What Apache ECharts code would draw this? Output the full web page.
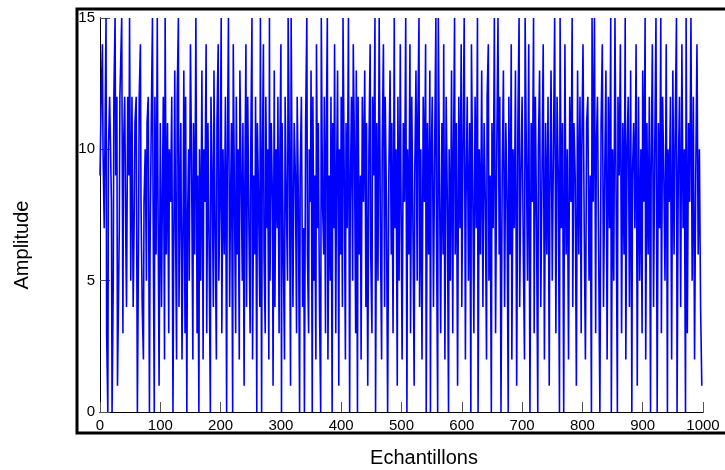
<!DOCTYPE html>
<html>
<head>
<meta charset="utf-8">
<script src="https://cdn.jsdelivr.net/npm/echarts@6.0.0/dist/echarts.min.js"></script>
<style>
html,body{margin:0;padding:0;background:#fff;}
#chart{width:725px;height:470px;}
</style>
</head>
<body>
<div id="chart"></div>
<script>
// Signal values (integer amplitudes, samples 0..999), read/
const amplitude = [
9,9,12,12,14,10,10,7,7,7,15,3,3,0,10,10,12,12,12,8,0,0,5,12,12,15,9,9,12,1,1,1,7,12,12,14,15,15,3,10,10,12,12,6,4,4,12,12,9,15,
15,5,5,12,12,4,4,8,11,11,12,12,0,0,7,12,12,14,8,8,4,4,2,8,8,10,10,5,11,11,12,12,0,6,6,11,11,15,8,8,0,12,12,6,6,15,9,9,1,1,
11,11,4,7,7,12,12,2,15,15,6,6,11,11,3,10,10,8,8,12,12,0,5,5,13,8,8,2,12,12,15,4,4,9,11,11,2,2,8,13,13,3,12,12,0,7,7,10,5,5,
14,14,9,9,2,11,11,6,6,15,15,3,9,9,0,10,10,5,5,13,13,2,10,10,8,8,14,3,3,11,11,6,6,0,12,12,9,9,4,13,13,7,7,2,11,11,14,5,5,8,
8,15,3,3,10,10,6,6,12,12,0,9,9,15,15,4,7,7,11,11,0,14,14,8,8,3,12,12,6,10,10,2,13,13,9,9,5,11,11,1,8,8,14,4,4,12,12,7,7,3,
10,10,15,2,2,9,9,6,12,12,0,11,11,8,8,4,15,15,0,9,9,14,6,6,3,12,12,7,10,10,2,15,5,5,11,11,8,1,1,13,4,4,10,10,7,12,12,3,9,9,
14,0,11,11,6,6,2,12,12,8,8,5,15,15,10,10,1,15,15,7,4,4,11,11,9,9,3,12,12,8,8,0,9,9,12,12,4,4,7,0,0,11,11,15,6,6,3,10,10,8,
13,13,0,12,12,5,9,9,2,14,14,7,11,11,4,4,0,15,15,8,8,6,12,12,3,10,10,15,2,2,9,9,5,12,12,0,11,11,7,14,14,3,8,8,13,13,1,10,10,6,
12,12,4,15,15,9,9,2,11,11,7,7,15,15,0,8,8,12,12,5,14,14,10,10,3,13,13,0,12,12,6,6,9,2,2,12,12,8,8,13,13,4,11,11,1,1,10,10,14,6,
6,3,12,12,9,9,15,0,0,11,11,5,5,15,15,7,7,2,10,10,14,14,4,12,12,8,8,0,0,9,9,13,13,6,11,11,3,3,15,7,7,10,10,1,12,12,5,5,14,9,
9,2,2,11,11,8,8,15,15,0,10,10,6,6,14,3,3,12,12,7,7,1,9,9,13,13,5,11,11,15,4,4,10,10,2,2,12,12,8,8,14,0,0,11,11,6,6,13,0,9,
9,12,12,4,4,10,10,15,7,7,0,15,15,9,9,3,3,11,11,6,14,14,2,2,12,12,8,8,0,10,10,5,5,13,13,3,9,9,15,6,6,11,11,1,1,12,12,7,7,14,
4,4,10,10,15,15,2,8,8,12,12,5,5,11,11,0,14,14,9,9,3,3,12,12,7,7,15,0,0,10,10,6,6,13,13,4,4,11,11,8,8,2,12,12,14,5,5,9,9,0,
11,11,7,7,15,15,3,3,10,10,15,15,6,12,12,0,0,9,9,13,13,4,4,11,11,8,8,0,12,12,6,6,14,2,2,10,10,7,7,13,13,1,1,11,11,15,4,4,9,9,
12,12,6,6,2,15,15,10,10,5,5,14,14,0,0,11,11,8,8,15,3,3,12,12,7,7,0,10,10,13,13,4,4,9,9,14,14,2,2,11,11,6,6,12,12,1,8,8,13,13,
5,5,10,10,15,15,3,3,12,12,9,9,0,15,15,7,7,11,11,0,0,14,14,6,6,10,10,2,2,12,12,8,8,15,4,4,11,11,9,9,1,1,13,13,6,6,12,12,3,10,
10,14,14,7,7,2,2,11,11,12,12,5,5,9,9,0,15,15,8,8,15,15,3,10,10,12,12,6,6,0,0,11,11,14,14,4,4,9,9,13,13,2,2,12,12,7,7,15,0,0,
10,10,5,5,15,15,8,8,0,12,12,9,9,14,14,3,3,11,11,6,6,15,2,2,10,10,12,12,4,4,13,13,0,9,9,11,11,7,7,14,14,1,1,12,12,5,5,10,10,3,
13,13,8,8,15,2,2,11,11,6,6,12,12,0,9,9,14,14,4,4,10,10,15,15,0,0,11,11,7,7,15,3,3,12,12,9,9,5,5,14,14,0,10,10,8,8,12,12,2,2,
13,13,6,6,11,11,15,0,0,9,9,12,12,4,4,14,14,7,7,10,10,0,15,15,3,3,11,11,8,8,15,15,5,5,12,12,2,2,9,9,14,14,6,6,10,10,4,4,1,1
];
const xTicks = [0,100,200,300,400,500,600,700,800,900,1000];
const yTicks = [0,5,10,15];
const xTitle = 'Echantillons';
const yTitle = 'Amplitude';

const seriesData = amplitude.map((v, i) => [i, v]);

const chart = echarts.init(document.getElementById('chart'), null, {renderer: 'canvas'});
const tickFont = () => ({fontFamily: 'Liberation Sans, Arial, sans-serif', fontSize: 15, color: '#000'});
const axLine = () => ({show: true, lineStyle: {color: '#000', width: 1}});
const xBase = () => ({type: 'value', min: xTicks[0], max: xTicks[xTicks.length-1], interval: xTicks[1]-xTicks[0], splitLine: {show: false}});
const yBase = () => ({type: 'value', min: yTicks[0], max: yTicks[yTicks.length-1], interval: yTicks[1]-yTicks[0], splitLine: {show: false}});
// tick-only axes shifted 5px into the plot, ticks pointing out to the frame -> ticks drawn inside the box
const tickAxis = (pos) => ({position: pos, offset: -5, axisLine: {show: false},
  axisTick: {show: true, inside: false, length: 5, lineStyle: {color: '#555', width: 1}}, axisLabel: {show: false}});

chart.setOption({
  animation: false,
  backgroundColor: '#fff',
  grid: {left: 100, right: 22, top: 18, bottom: 58, show: false},
  xAxis: [
    Object.assign(xBase(), {position: 'bottom', axisLine: axLine(), axisTick: {show: false},
     axisLabel: Object.assign({margin: 6, showMinLabel: true, showMaxLabel: true, formatter: v => String(v)}, tickFont())}),
    Object.assign(xBase(), {position: 'top', axisLine: axLine(), axisTick: {show: false}, axisLabel: {show: false}}),
    Object.assign(xBase(), tickAxis('bottom')),
    Object.assign(xBase(), tickAxis('top'))
  ],
  yAxis: [
    Object.assign(yBase(), {position: 'left', axisLine: axLine(), axisTick: {show: false},
     axisLabel: Object.assign({margin: 5, formatter: v => String(v)}, tickFont())}),
    Object.assign(yBase(), {position: 'right', axisLine: axLine(), axisTick: {show: false}, axisLabel: {show: false}}),
    Object.assign(yBase(), tickAxis('left')),
    Object.assign(yBase(), tickAxis('right'))
  ],
  series: [{
    type: 'line',
    xAxisIndex: 0,
    yAxisIndex: 0,
    data: seriesData,
    showSymbol: false,
    symbol: 'none',
    clip: true,
    lineStyle: {color: '#0000ff', width: 1.6},
    z: 2
  }],
  graphic: [
    {type: 'rect', z: 100, silent: true,
     shape: {x: 77, y: 9, width: 700, height: 424},
     style: {fill: 'none', stroke: '#000', lineWidth: 3}},
    {type: 'text', z: 100, silent: true, x: 22, y: 245, rotation: Math.PI/2,
     style: {text: yTitle, fontFamily: 'Liberation Sans, Arial, sans-serif', fontSize: 20, fill: '#000', align: 'center', verticalAlign: 'middle'}},
    {type: 'text', z: 100, silent: true, x: 424, y: 458,
     style: {text: xTitle, fontFamily: 'Liberation Sans, Arial, sans-serif', fontSize: 20, fill: '#000', align: 'center', verticalAlign: 'middle'}}
  ]
});
</script>
</body>
</html>
